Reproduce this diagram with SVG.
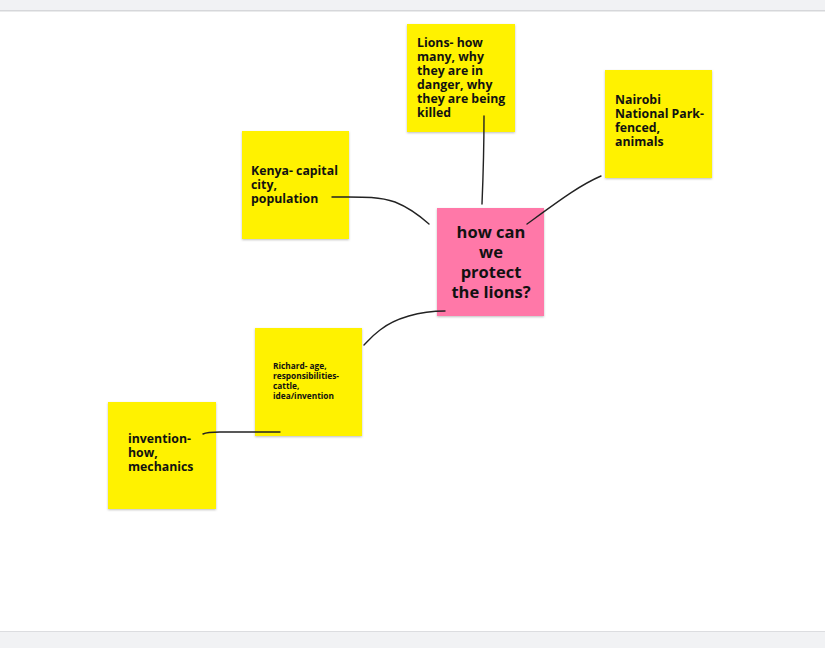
<svg xmlns="http://www.w3.org/2000/svg" width="825" height="648" viewBox="0 0 825 648">
<style>
.y{fill:#fff200}
.p{fill:#ff78a8}
.n rect{filter:drop-shadow(0 1px 1px rgba(0,0,0,0.25))}
text{font-family:"Open Sans","Liberation Sans",sans-serif;font-weight:700;fill:#111}
.t{font-size:12.3px}
.b{font-size:16.5px}
.s{font-size:8.3px}
#c path{fill:none;stroke:#222;stroke-width:1.4;stroke-linecap:round}
</style>
<rect width="825" height="648" fill="#fff"/>
<rect width="825" height="10" fill="#f1f2f4"/>
<rect y="10" width="825" height="1.5" fill="#d6d7da"/>
<rect y="631" width="825" height="17" fill="#f1f2f4"/>
<rect y="631" width="825" height="1" fill="#dcdde0"/>
<g id="lions" class="n"><rect class="y" x="407" y="24" width="108" height="108"/>
<text class="t" x="417" y="47">Lions- how</text><text class="t" x="417" y="61">many, why</text><text class="t" x="417" y="75">they are in</text><text class="t" x="417" y="89">danger, why</text><text class="t" x="417" y="103">they are being</text><text class="t" x="417" y="117">killed</text></g>
<g id="kenya" class="n"><rect class="y" x="242" y="131" width="107" height="108"/>
<text class="t" x="251" y="175">Kenya- capital</text><text class="t" x="251" y="189">city,</text><text class="t" x="251" y="203">population</text></g>
<g id="nairobi" class="n"><rect class="y" x="605" y="70" width="107" height="108"/>
<text class="t" x="615" y="104">Nairobi</text><text class="t" x="615" y="118">National Park-</text><text class="t" x="615" y="132">fenced,</text><text class="t" x="615" y="146">animals</text></g>
<g id="question" class="n"><rect class="p" x="437" y="208" width="107" height="108"/>
<text class="b" text-anchor="middle" x="491" y="238">how can</text><text class="b" text-anchor="middle" x="491" y="258">we</text><text class="b" text-anchor="middle" x="491" y="278">protect</text><text class="b" text-anchor="middle" x="491" y="298">the lions?</text></g>
<g id="richard" class="n"><rect class="y" x="255" y="328" width="107" height="108"/>
<text class="s" x="273" y="369">Richard- age,</text><text class="s" x="273" y="379">responsibilities-</text><text class="s" x="273" y="389">cattle,</text><text class="s" x="273" y="399">idea/invention</text></g>
<g id="invention" class="n"><rect class="y" x="108" y="402" width="108" height="107"/>
<text class="t" x="128" y="443">invention-</text><text class="t" x="128" y="457">how,</text><text class="t" x="128" y="471">mechanics</text></g>
<g id="c">
<path d="M484 116 C484 150 483 180 482 204"/>
<path d="M332 197 C360 197 378 196 395 202 C410 208 420 216 429 224"/>
<path d="M601 176 C580 185 560 200 527 224"/>
<path d="M445 311 C420 311 395 318 380 330 C372 336 368 341 364 345"/>
<path d="M280 432 C260 432 240 432 220 432 C210 432 205 433 203 434"/>
</g>
</svg>
